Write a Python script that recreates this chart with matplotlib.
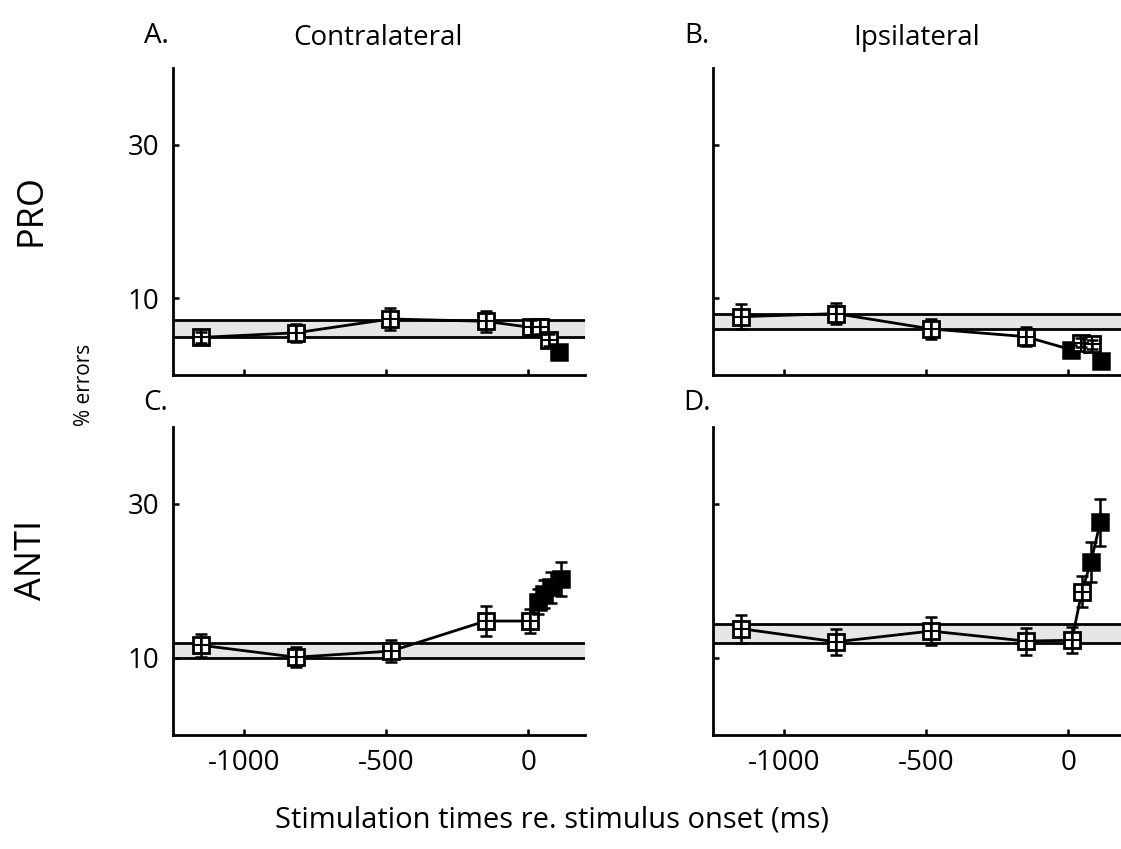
import matplotlib
matplotlib.use("Agg")
import matplotlib.pyplot as plt

plt.rcParams["font.family"] = ["Open Sans", "DejaVu Sans"]

# stimulation times (ms), % errors, error bars, filled marker flag, control band
xA = [-1150, -817, -485, -150, 10, 40, 75, 110]
yA = [4.9, 5.5, 7.3, 7.0, 6.2, 6.3, 4.6, 3.0]
eA = [0.7, 1.2, 1.4, 1.4, 1.0, 1.0, 0.8, 0.6]
fA = [0, 0, 0, 0, 0, 0, 0, 1]
bandA = [5.0, 7.2]

xB = [-1150, -817, -483, -150, 10, 45, 85, 115]
yB = [7.6, 8.0, 6.0, 5.0, 3.3, 4.2, 4.0, 1.8]
eB = [1.6, 1.4, 1.3, 1.2, 0.6, 0.6, 0.6, 0.5]
fB = [0, 0, 0, 0, 1, 0, 0, 1]
bandB = [6.0, 8.0]

xC = [-1150, -817, -483, -150, 5, 35, 55, 80, 115]
yC = [11.65, 10.1, 10.9, 14.8, 14.8, 17.3, 18.3, 19.2, 20.3]
eC = [1.5, 1.3, 1.45, 1.9, 1.6, 1.6, 1.8, 2.0, 2.2]
fC = [0, 0, 0, 0, 0, 1, 1, 1, 1]
bandC = [10.0, 11.9]

xD = [-1150, -817, -483, -150, 13, 48, 80, 113]
yD = [13.8, 12.1, 13.5, 12.2, 12.3, 18.6, 22.5, 27.6]
eD = [1.8, 1.7, 1.8, 1.75, 1.7, 2.0, 2.6, 3.0]
fD = [0, 0, 0, 0, 0, 0, 1, 1]
bandD = [12.0, 14.45]

W, H = 1121, 849
fig = plt.figure(figsize=(W / 100, H / 100), dpi=100)


def panel(rect, x, y, e, filled, band, ylabels, xlabels):
    ax = fig.add_axes(rect)
    ax.axhspan(band[0], band[1], color="#e6e6e6", zorder=0)
    ax.axhline(band[0], color="k", lw=2, zorder=1)
    ax.axhline(band[1], color="k", lw=2, zorder=1)
    ax.plot(x, y, "k-", lw=2, zorder=2)
    for xi, yi, ei, fi in zip(x, y, e, filled):
        if fi:
            ax.plot(xi, yi, "s", ms=11, mfc="k", mec="k", mew=1.8, zorder=3)
        else:
            ax.plot(xi, yi, "s", ms=11, mfc="white", mec="k", mew=2, zorder=3)
            ax.plot(xi, yi, "+", ms=11, mec="k", mew=1.5, zorder=4)
        ax.errorbar(xi, yi, yerr=ei, fmt="none", ecolor="k", elinewidth=1.8,
                    capsize=4, capthick=1.8, zorder=4)
    ax.set_xlim(-1250, 200)
    ax.set_ylim(0, 40)
    ax.set_xticks([-1000, -500, 0])
    ax.set_yticks([10, 30])
    ax.set_xticklabels(["-1000", "-500", "0"] if xlabels else [])
    ax.set_yticklabels(["10", "30"] if ylabels else [])
    for s in ["top", "right"]:
        ax.spines[s].set_visible(False)
    for s in ["left", "bottom"]:
        ax.spines[s].set_linewidth(2)
    ax.tick_params(direction="in", length=4, width=1.8, labelsize=20, pad=10)
    return ax


panel([173 / W, 1 - 375 / H, 412 / W, 307 / H], xA, yA, eA, fA, bandA, True, False)
panel([713 / W, 1 - 375 / H, 412 / W, 307 / H], xB, yB, eB, fB, bandB, False, False)
panel([173 / W, 1 - 735 / H, 412 / W, 308 / H], xC, yC, eC, fC, bandC, True, True)
panel([713 / W, 1 - 735 / H, 412 / W, 308 / H], xD, yD, eD, fD, bandD, False, True)


def label(px, py, s, **kw):
    fig.text(px / W, 1 - py / H, s, ha="center", va="center", **kw)


label(156, 36, "A.", fontsize=20)
label(378, 38, "Contralateral", fontsize=20)
label(697, 36, "B.", fontsize=20)
label(917, 38, "Ipsilateral", fontsize=20)
label(156, 403, "C.", fontsize=20)
label(697, 403, "D.", fontsize=20)
label(32, 210, "PRO", fontsize=26, rotation=90)
label(32, 560, "ANTI", fontsize=26, rotation=90)
label(85, 385, "% errors", fontsize=15, rotation=90)
label(552, 820, "Stimulation times re. stimulus onset (ms)", fontsize=21)

fig.savefig("out.png", dpi=100)
